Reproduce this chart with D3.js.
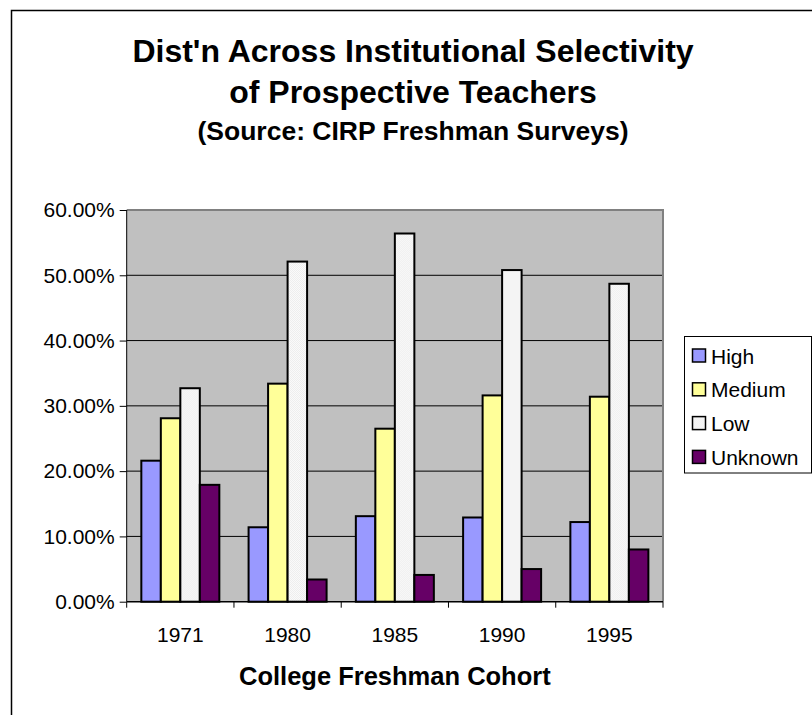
<!DOCTYPE html>
<html>
<head>
<meta charset="utf-8">
<script src="https://cdn.jsdelivr.net/npm/d3@7"></script>
<style>
  html, body { margin: 0; padding: 0; background: #fff; }
  svg { display: block; font-family: "Liberation Sans", Arial, sans-serif; }
</style>
</head>
<body>
<svg id="chart" width="812" height="715"></svg>
<script>
// Cohorts and share of prospective teachers by institutional selectivity
const cohorts = ["1971", "1980", "1985", "1990", "1995"];
const seriesNames = ["High", "Medium", "Low", "Unknown"];
const high    = [0.216, 0.114, 0.131, 0.129, 0.122];
const medium  = [0.281, 0.334, 0.265, 0.316, 0.314];
const low     = [0.327, 0.521, 0.564, 0.508, 0.487];
const unknown = [0.179, 0.034, 0.041, 0.050, 0.080];
const yTicks  = [0, 0.1, 0.2, 0.3, 0.4, 0.5, 0.6];

const seriesValues = { High: high, Medium: medium, Low: low, Unknown: unknown };
const fills = { High: "#9999FF", Medium: "#FFFF99", Low: "url(#lowFill)", Unknown: "#660066" };

const svg = d3.select("#chart");

// light stippled fill used by the "Low" series
const defs = svg.append("defs");
const pat = defs.append("pattern").attr("id", "lowFill")
  .attr("width", 2).attr("height", 2).attr("patternUnits", "userSpaceOnUse");
pat.append("rect").attr("width", 2).attr("height", 2).attr("fill", "#FAFAFA");
pat.append("rect").attr("width", 1).attr("height", 1).attr("fill", "#EEEEEE");
pat.append("rect").attr("x", 1).attr("y", 1).attr("width", 1).attr("height", 1).attr("fill", "#EEEEEE");

// chart frame
svg.append("rect").attr("x", 11.5).attr("y", 10.5).attr("width", 840).attr("height", 740)
  .attr("fill", "none").attr("stroke", "#000").attr("stroke-width", 1.5);

const plot = { left: 126.7, right: 663, top: 210, bottom: 601.7 };

const x0 = d3.scaleBand().domain(cohorts).range([plot.left, plot.right]).paddingInner(0).paddingOuter(0);
const x1 = d3.scaleBand().domain(seriesNames).range([0, x0.bandwidth()]).paddingInner(0).paddingOuter(0.75);
const y = d3.scaleLinear().domain([0, 0.6]).range([plot.bottom, plot.top]);

// plot background
svg.append("rect").attr("x", plot.left).attr("y", plot.top)
  .attr("width", plot.right - plot.left).attr("height", plot.bottom - plot.top)
  .attr("fill", "#C0C0C0");

// horizontal gridlines
svg.append("g").selectAll("line").data(yTicks.filter(t => t > 0 && t < 0.6)).join("line")
  .attr("x1", plot.left).attr("x2", plot.right)
  .attr("y1", d => y(d)).attr("y2", d => y(d))
  .attr("stroke", "#000").attr("stroke-width", 1);

// plot area border (top and right)
svg.append("path")
  .attr("d", `M${plot.left},${plot.top}H${plot.right}V${plot.bottom}`)
  .attr("fill", "none").attr("stroke", "#808080").attr("stroke-width", 2);

// bars
const groups = svg.append("g").selectAll("g").data(cohorts).join("g")
  .attr("transform", d => `translate(${x0(d)},0)`);
groups.selectAll("rect")
  .data((c, i) => seriesNames.map(s => ({ s, v: seriesValues[s][i] })))
  .join("rect")
  .attr("x", d => x1(d.s))
  .attr("y", d => y(d.v))
  .attr("width", x1.bandwidth())
  .attr("height", d => y(0) - y(d.v))
  .attr("fill", d => fills[d.s])
  .attr("stroke", "#000").attr("stroke-width", 2);

// y axis
const yAxis = d3.axisLeft(y).tickValues(yTicks).tickFormat(d3.format(".2%"))
  .tickSize(7).tickPadding(5);
const gy = svg.append("g").attr("transform", `translate(${plot.left},0)`).call(yAxis);
gy.select(".domain").attr("stroke", "#000").attr("d", `M0,${plot.top}V${plot.bottom}`);
gy.selectAll(".tick line").attr("stroke", "#000");
gy.selectAll("text").attr("font-size", 21).attr("fill", "#000")
  .attr("font-family", "'Liberation Sans', Arial, sans-serif");

// x axis: tick marks at category boundaries, labels centred in each band
const gx = svg.append("g").attr("transform", `translate(0,${plot.bottom})`);
gx.append("line").attr("x1", plot.left).attr("x2", plot.right)
  .attr("stroke", "#000").attr("stroke-width", 1.5);
const bounds = cohorts.map(c => x0(c)).concat([x0(cohorts[cohorts.length - 1]) + x0.bandwidth()]);
gx.selectAll(".bt").data(bounds).join("line").attr("class", "bt")
  .attr("x1", d => d).attr("x2", d => d).attr("y1", 0).attr("y2", 6)
  .attr("stroke", "#000");
gx.selectAll(".lbl").data(cohorts).join("text").attr("class", "lbl")
  .attr("x", d => x0(d) + x0.bandwidth() / 2).attr("y", 40)
  .attr("text-anchor", "middle").attr("font-size", 21).text(d => d);

// axis title
svg.append("text").attr("x", (plot.left + plot.right) / 2).attr("y", 685)
  .attr("text-anchor", "middle").attr("font-size", 25.5).attr("font-weight", "bold")
  .text("College Freshman Cohort");

// chart title
const title = svg.append("text").attr("text-anchor", "middle").attr("font-weight", "bold");
title.append("tspan").attr("x", 413).attr("y", 62).attr("font-size", 32)
  .text("Dist'n Across Institutional Selectivity");
title.append("tspan").attr("x", 413).attr("y", 103).attr("font-size", 32)
  .text("of Prospective Teachers");
title.append("tspan").attr("x", 413).attr("y", 140).attr("font-size", 26.5)
  .text("(Source: CIRP Freshman Surveys)");

// legend
const lg = svg.append("g");
lg.append("rect").attr("x", 684.5).attr("y", 336.5).attr("width", 127).attr("height", 136.5)
  .attr("fill", "#fff").attr("stroke", "#000").attr("stroke-width", 1);
const rows = lg.selectAll("g").data(seriesNames).join("g")
  .attr("transform", (d, i) => `translate(0,${356 + i * 33.8})`);
rows.append("rect").attr("x", 692.5).attr("y", -7).attr("width", 13).attr("height", 13)
  .attr("fill", d => fills[d]).attr("stroke", "#000").attr("stroke-width", 1.5);
rows.append("text").attr("x", 711).attr("y", 7.5).attr("font-size", 21).text(d => d);
</script>
</body>
</html>
